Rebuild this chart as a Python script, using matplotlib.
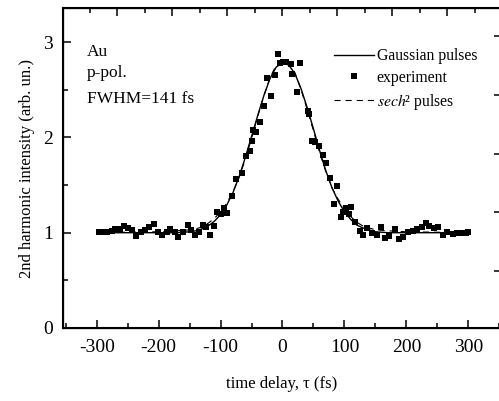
import matplotlib
matplotlib.use('Agg')
import matplotlib.pyplot as plt
from matplotlib.ticker import MultipleLocator, NullFormatter
from matplotlib.lines import Line2D

plt.rcParams.update({'font.family': 'Liberation Serif', 'mathtext.fontset': 'stix',
                     'axes.unicode_minus': False})

# experimental points (time delay in fs, SH intensity)
exp_t = [-297, -290, -283, -276, -270, -263, -256, -250, -243, -236, -229, -222, -215, -208,
         -201, -194, -187, -181, -174, -168, -161, -153, -147, -141, -135, -129, -123, -117,
         -110, -106, -99, -94, -89, -82, -75, -66, -59, -53, -50, -47, -42, -37, -30, -25,
         -18, -12, -7, -4, 1, 5, 13, 16, 24, 29, 41, 43, 47, 52, 59, 66, 70, 76, 83, 88,
         95, 98, 103, 108, 110, 117, 125, 130, 137, 144, 152, 159, 165, 172, 181, 188, 194,
         203, 210, 217, 225, 231, 237, 244, 251, 259, 266, 275, 282, 289, 296, 300]
exp_y = [1.01, 1.01, 1.01, 1.02, 1.04, 1.04, 1.07, 1.05, 1.03, 0.97, 1.01, 1.03, 1.06, 1.09,
         1.01, 0.98, 1.01, 1.04, 1.01, 0.95, 1.01, 1.08, 1.03, 0.98, 1.01, 1.08, 1.06, 0.98,
         1.07, 1.22, 1.20, 1.26, 1.21, 1.39, 1.56, 1.63, 1.81, 1.86, 1.96, 2.08, 2.06, 2.16, 2.33, 2.62,
         2.43, 2.66, 2.88, 2.78, 2.79, 2.79, 2.77, 2.67, 2.48, 2.78, 2.28, 2.25, 1.96, 1.95, 1.91, 1.82, 1.73, 1.57, 1.30, 1.49,
         1.17, 1.22, 1.26, 1.20, 1.27, 1.11, 1.02, 0.98, 1.05, 1.00, 0.98, 1.06, 0.94, 0.97, 1.04, 0.93, 0.96,
         1.01, 1.02, 1.04, 1.06, 1.10, 1.07, 1.05, 1.06, 0.98, 1.01, 0.99, 1.00, 1.00, 1.00, 1.01]

# fitted curves
fit_t = [-300, -200, -170, -150, -140, -130, -120, -110, -100, -90, -80, -70, -60, -50, -40, -30,
         -20, -10, 0, 10, 20, 30, 40, 50, 60, 70, 80, 90, 100, 110, 120, 130, 140, 150, 170, 200, 300]
gauss = [1.00, 1.00, 1.00, 1.01, 1.02, 1.04, 1.07, 1.12, 1.19, 1.29, 1.42, 1.59, 1.79, 2.01, 2.23, 2.44,
         2.62, 2.74, 2.78, 2.76, 2.67, 2.51, 2.31, 2.09, 1.86, 1.65, 1.47, 1.33, 1.22, 1.14, 1.08, 1.05,
         1.03, 1.01, 1.00, 1.00, 1.00]
sech2 = [1.00, 1.01, 1.02, 1.03, 1.04, 1.06, 1.10, 1.15, 1.22, 1.31, 1.43, 1.58, 1.77, 1.99, 2.22, 2.44,
         2.63, 2.76, 2.80, 2.78, 2.68, 2.50, 2.29, 2.07, 1.84, 1.64, 1.47, 1.35, 1.25, 1.17, 1.11, 1.07,
         1.05, 1.03, 1.02, 1.01, 1.00]

fig = plt.figure(figsize=(4.99, 4.01), dpi=100)
ax = fig.add_axes([63/499, 1-328/401, 438/499, 320/401])

ax.plot(fit_t, sech2, color='black', lw=0.8, dashes=(5.5, 4.5))
ax.plot(fit_t, gauss, '-', color='black', lw=1.0)
ax.plot(exp_t, exp_y, 's', color='black', ms=5.0, mew=0)

ax.set_xlim(-354.4, 352.8)
ax.set_ylim(0, 3.358)
ax.xaxis.set_major_locator(MultipleLocator(100))
ax.xaxis.set_minor_locator(MultipleLocator(50))
ax.yaxis.set_major_locator(MultipleLocator(1))
ax.yaxis.set_minor_locator(MultipleLocator(0.5))
ax.tick_params(which='both', direction='in', width=1.1, labelsize=14)
ax.tick_params(which='major', length=6)
ax.tick_params(which='minor', length=3.5)
ax.tick_params(axis='x', pad=8)
ax.tick_params(axis='y', pad=7)
for s in ax.spines.values():
    s.set_linewidth(1.5)
ax.spines['right'].set_visible(False)

ax.set_xlabel(r'time delay, τ (fs)', fontsize=12, labelpad=14)
ax.set_ylabel('2nd harmonic intensity (arb. un.)', fontsize=12, labelpad=6)

# extra tick scales on top and right (no labels)
top = ax.twiny()
top.set_xlim(0.018, 7.98)
top.xaxis.set_major_locator(MultipleLocator(1))
top.xaxis.set_minor_locator(MultipleLocator(0.5))
top.xaxis.set_major_formatter(NullFormatter())
top.tick_params(which='both', direction='in', width=1.1)
top.tick_params(which='major', length=6)
top.tick_params(which='minor', length=3.5)
top.spines['right'].set_visible(False)

right = ax.twinx()
right.set_ylim(0.03, 5.477)
right.yaxis.set_major_locator(MultipleLocator(1))
right.yaxis.set_minor_locator(MultipleLocator(0.5))
right.yaxis.set_major_formatter(NullFormatter())
right.tick_params(which='both', direction='in', width=1.1)
right.tick_params(which='major', length=5)
right.tick_params(which='minor', length=1.5)
right.spines['right'].set_visible(False)

ax.text(0.055, 0.85, 'Au', transform=ax.transAxes, fontsize=12.5, va='baseline')
ax.text(0.055, 0.784, 'p-pol.', transform=ax.transAxes, fontsize=12.5, va='baseline')
ax.text(0.055, 0.703, 'FWHM=141 fs', transform=ax.transAxes, fontsize=12.5, va='baseline')

handles = [Line2D([], [], color='black', lw=1.0),
           Line2D([], [], color='black', marker='s', ls='none', ms=5.0, mew=0),
           Line2D([], [], color='black', lw=0.8, dashes=(5.5, 4.5))]
labels = ['Gaussian pulses', 'experiment', r'$\mathit{sech}$² pulses']
ax.legend(handles, labels, loc='upper left', bbox_to_anchor=((333-63)/437, (328-48)/320),
          frameon=False, fontsize=11.3, handlelength=2.6, handletextpad=0.15,
          labelspacing=0.38, borderpad=0, borderaxespad=0)

fig.savefig('out.png', dpi=100)
